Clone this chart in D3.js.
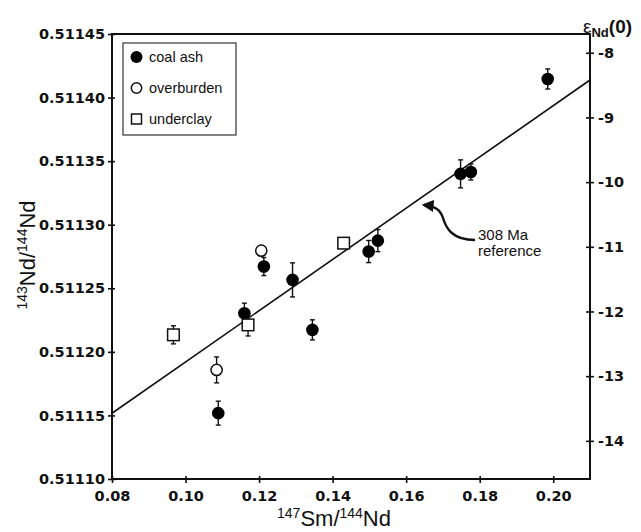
<!DOCTYPE html>
<html><head><meta charset="utf-8">
<script src="https://cdn.jsdelivr.net/npm/d3@7"></script>
<style>
html,body{margin:0;padding:0;background:#fff;}
svg{display:block;}
</style></head>
<body>
<svg id="chart" width="641" height="532"></svg>
<script>
// ---- data ----
const coalAshX   = [0.1985, 0.1748, 0.1776, 0.1523, 0.1498, 0.1291, 0.1213, 0.1160, 0.1345, 0.1089];
const coalAshY   = [0.5114146, 0.5113400, 0.5113415, 0.5112875, 0.5112789, 0.5112566, 0.5112671, 0.5112304, 0.5112173, 0.5111518];
const coalAshErr = [0.0000079, 0.0000110, 0.0000063, 0.0000087, 0.0000087, 0.0000134, 0.0000071, 0.0000079, 0.0000079, 0.0000094];

const overburdenX   = [0.1206, 0.10845];
const overburdenY   = [0.5112796, 0.5111858];
const overburdenErr = [0.0000040, 0.0000102];

const underclayX   = [0.0967, 0.1170, 0.1430];
const underclayY   = [0.5112134, 0.5112212, 0.5112855];
const underclayErr = [0.0000071, 0.0000087, 0.0000030];

const refLineX = [0.08, 0.21];
const refLineY = [0.5111517, 0.5114138];

const xTicks   = [0.08, 0.10, 0.12, 0.14, 0.16, 0.18, 0.20];
const yTicks   = [0.51110, 0.51115, 0.51120, 0.51125, 0.51130, 0.51135, 0.51140, 0.51145];
const epsTicks = [-8, -9, -10, -11, -12, -13, -14];
const legendLabels = ["coal ash", "overburden", "underclay"];

// ---- layout ----
const svg = d3.select("#chart");
const L = 112, R = 590, T = 34, B = 479;
const x = d3.scaleLinear().domain([0.08, 0.21]).range([L, R]);
const y = d3.scaleLinear().domain([0.51110, 0.51145]).range([B, T]);
const eps = d3.scaleLinear().domain([-14.59, -7.71]).range([B, T]);

const tickFont = "'DejaVu Sans', sans-serif";
const textFont = "'Liberation Sans', Arial, sans-serif";

// reference line
svg.append("line")
  .attr("x1", x(refLineX[0])).attr("y1", y(refLineY[0]))
  .attr("x2", x(refLineX[1])).attr("y2", y(refLineY[1]))
  .attr("stroke", "#111").attr("stroke-width", 1.6);

// axes
function styleAxis(g, inner, outer, dir) {
  g.select(".domain").remove();
  g.selectAll(".tick line").attr("stroke", "#111").attr("stroke-width", 1.6);
  g.selectAll(".tick text").attr("fill", "#111")
    .style("font-family", tickFont).style("font-weight", "bold").style("font-size", "14.5px");
}
const gL = svg.append("g").attr("transform", `translate(${L},0)`)
  .call(d3.axisLeft(y).tickValues(yTicks).tickFormat(d3.format(".5f")).tickSize(4).tickPadding(3));
styleAxis(gL);
gL.selectAll(".tick line").attr("x1", 3);

const gB = svg.append("g").attr("transform", `translate(0,${B})`)
  .call(d3.axisBottom(x).tickValues(xTicks).tickFormat(d3.format(".2f")).tickSize(4).tickPadding(8));
styleAxis(gB);
gB.selectAll(".tick line").attr("y1", -3);

const gR = svg.append("g").attr("transform", `translate(${R},0)`)
  .call(d3.axisRight(eps).tickValues(epsTicks).tickFormat(d => "-" + Math.abs(d)).tickSize(4).tickPadding(4));
styleAxis(gR);
gR.selectAll(".tick line").attr("x1", -4);

// frame
svg.append("rect").attr("x", L).attr("y", T).attr("width", R - L).attr("height", B - T)
  .attr("fill", "none").attr("stroke", "#111").attr("stroke-width", 2);

// series
function series(xs, ys, es) { return xs.map((v, i) => ({x: v, y: ys[i], e: es[i]})); }
const coal = series(coalAshX, coalAshY, coalAshErr);
const over = series(overburdenX, overburdenY, overburdenErr);
const under = series(underclayX, underclayY, underclayErr);

function errorBars(data) {
  const g = svg.append("g").attr("stroke", "#111").attr("stroke-width", 1.4);
  data.forEach(d => {
    g.append("line").attr("x1", x(d.x)).attr("x2", x(d.x)).attr("y1", y(d.y - d.e)).attr("y2", y(d.y + d.e));
    g.append("line").attr("x1", x(d.x) - 2.5).attr("x2", x(d.x) + 2.5).attr("y1", y(d.y - d.e)).attr("y2", y(d.y - d.e));
    g.append("line").attr("x1", x(d.x) - 2.5).attr("x2", x(d.x) + 2.5).attr("y1", y(d.y + d.e)).attr("y2", y(d.y + d.e));
  });
}
errorBars(coal); errorBars(over); errorBars(under);

svg.append("g").selectAll("circle").data(coal).join("circle")
  .attr("cx", d => x(d.x)).attr("cy", d => y(d.y)).attr("r", 6.3).attr("fill", "#000");
svg.append("g").selectAll("circle").data(over).join("circle")
  .attr("cx", d => x(d.x)).attr("cy", d => y(d.y)).attr("r", 5.6)
  .attr("fill", "#fff").attr("stroke", "#111").attr("stroke-width", 1.5);
svg.append("g").selectAll("rect").data(under).join("rect")
  .attr("x", d => x(d.x) - 5.8).attr("y", d => y(d.y) - 5.8).attr("width", 11.6).attr("height", 11.6)
  .attr("fill", "#fff").attr("stroke", "#111").attr("stroke-width", 1.5);

// legend
const lg = svg.append("g");
lg.append("rect").attr("x", 123).attr("y", 43).attr("width", 113).attr("height", 92)
  .attr("fill", "#fff").attr("stroke", "#333").attr("stroke-width", 1.2);
const rows = [57, 88, 119];
lg.append("circle").attr("cx", 136.5).attr("cy", rows[0]).attr("r", 6).attr("fill", "#000");
lg.append("circle").attr("cx", 136.5).attr("cy", rows[1]).attr("r", 5.2).attr("fill", "#fff").attr("stroke", "#111").attr("stroke-width", 1.5);
lg.append("rect").attr("x", 131.5).attr("y", rows[2] - 5).attr("width", 10).attr("height", 10).attr("fill", "#fff").attr("stroke", "#111").attr("stroke-width", 1.5);
legendLabels.forEach((t, i) => {
  lg.append("text").attr("x", 149).attr("y", rows[i] + 5).text(t)
    .style("font-family", textFont).style("font-size", "14.5px").attr("fill", "#111");
});

// annotation
svg.append("defs").append("marker").attr("id", "ah").attr("viewBox", "0 0 10 10")
  .attr("refX", 8).attr("refY", 5).attr("markerWidth", 5).attr("markerHeight", 5).attr("orient", "auto")
  .append("path").attr("d", "M0,0 L10,5 L0,10 z").attr("fill", "#111");
svg.append("path").attr("d", "M475,240 C452,240 446,228 443,218 C440,209 434,206 424,205")
  .attr("fill", "none").attr("stroke", "#111").attr("stroke-width", 2.4).attr("marker-end", "url(#ah)");
svg.append("text").attr("x", 478).attr("y", 240).text("308 Ma")
  .style("font-family", textFont).style("font-size", "15px").attr("fill", "#111");
svg.append("text").attr("x", 478).attr("y", 256).text("reference")
  .style("font-family", textFont).style("font-size", "15px").attr("fill", "#111");

// axis titles
const xt = svg.append("text").attr("x", 334).attr("y", 526).attr("text-anchor", "middle")
  .style("font-family", textFont).style("font-size", "22px").attr("fill", "#111");
xt.append("tspan").text("147").attr("font-size", "14px").attr("dy", "-8");
xt.append("tspan").text("Sm/").attr("dy", "8");
xt.append("tspan").text("144").attr("font-size", "14px").attr("dy", "-8");
xt.append("tspan").text("Nd").attr("dy", "8");

const yt = svg.append("text").attr("transform", "translate(35,255) rotate(-90)").attr("text-anchor", "middle")
  .style("font-family", textFont).style("font-size", "22px").attr("fill", "#111");
yt.append("tspan").text("143").attr("font-size", "14px").attr("dy", "-8");
yt.append("tspan").text("Nd/").attr("dy", "8");
yt.append("tspan").text("144").attr("font-size", "14px").attr("dy", "-8");
yt.append("tspan").text("Nd").attr("dy", "8");

const et = svg.append("text").attr("x", 583).attr("y", 33)
  .style("font-family", textFont).style("font-size", "19px").attr("fill", "#111");
et.append("tspan").text("ε");
et.append("tspan").text("Nd").attr("font-size", "13px").attr("font-weight", "bold").attr("dy", "4");
et.append("tspan").text("(0)").attr("font-weight", "bold").attr("dy", "-4");
</script>
</body></html>
